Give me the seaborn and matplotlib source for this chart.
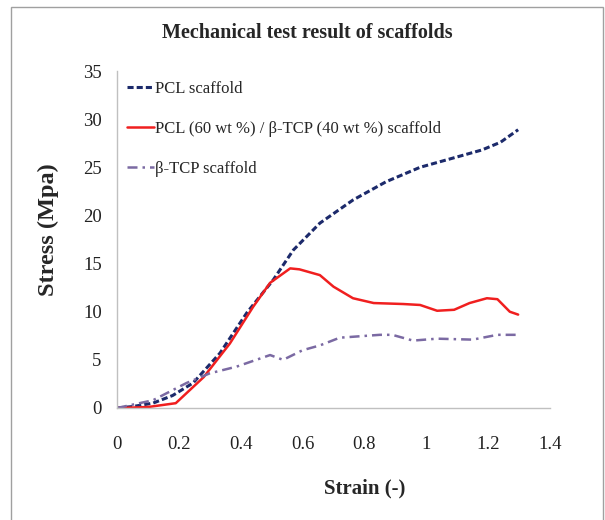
import matplotlib
matplotlib.use("Agg")
import matplotlib.pyplot as plt
import seaborn as sns
import pandas as pd
from matplotlib.patches import Rectangle

# Data
pcl_strain = [0.0, 0.05, 0.116, 0.18, 0.246, 0.333, 0.42, 0.505, 0.57, 0.656, 0.763, 0.87, 0.98, 1.08, 1.18, 1.24, 1.297]
pcl_stress = [0.0, 0.15, 0.5, 1.3, 2.6, 5.7, 9.9, 13.3, 16.4, 19.2, 21.6, 23.5, 25.0, 25.9, 26.8, 27.6, 28.9]

mix_strain = [0.0, 0.1, 0.19, 0.28, 0.365, 0.44, 0.495, 0.56, 0.59, 0.656, 0.70, 0.763, 0.83, 0.925, 0.98, 1.035, 1.09, 1.14, 1.196, 1.23, 1.27, 1.297]
mix_stress = [0.0, 0.1, 0.5, 3.2, 6.7, 10.5, 13.0, 14.5, 14.4, 13.8, 12.6, 11.4, 10.9, 10.8, 10.7, 10.1, 10.2, 10.9, 11.4, 11.3, 10.0, 9.7]

tcp_strain = [0.0, 0.116, 0.225, 0.30, 0.387, 0.495, 0.537, 0.60, 0.656, 0.72, 0.85, 0.89, 0.957, 1.035, 1.15, 1.23, 1.297]
tcp_stress = [0.0, 0.8, 2.6, 3.6, 4.3, 5.5, 5.0, 6.0, 6.5, 7.3, 7.6, 7.6, 7.0, 7.2, 7.1, 7.6, 7.6]

labels = ["PCL scaffold", "PCL (60 wt %) / \u03b2-TCP (40 wt %) scaffold", "\u03b2-TCP scaffold"]
x_ticks = [0, 0.2, 0.4, 0.6, 0.8, 1, 1.2, 1.4]
x_tick_labels = ["0", "0.2", "0.4", "0.6", "0.8", "1", "1.2", "1.4"]
y_ticks = [0, 5, 10, 15, 20, 25, 30, 35]

sns.set_style("white")
plt.rcParams['font.family'] = ['Liberation Serif', 'DejaVu Serif']

W, H = 605, 520
fig = plt.figure(figsize=(W / 100, H / 100), dpi=100)
ax = fig.add_axes([117 / W, 1 - 408 / H, (550 - 117) / W, (408 - 71) / H])

df_pcl = pd.DataFrame({"strain": pcl_strain, "stress": pcl_stress})
df_mix = pd.DataFrame({"strain": mix_strain, "stress": mix_stress})
df_tcp = pd.DataFrame({"strain": tcp_strain, "stress": tcp_stress})

sns.lineplot(data=df_pcl, x="strain", y="stress", ax=ax, color="#1c2a6b", lw=2.2,
             linestyle=(0, (2, 1)), label=labels[0], sort=False)
sns.lineplot(data=df_mix, x="strain", y="stress", ax=ax, color="#f01f1f", lw=1.8,
             label=labels[1], sort=False)
sns.lineplot(data=df_tcp, x="strain", y="stress", ax=ax, color="#7b6aa3", lw=1.8,
             linestyle=(0, (4, 2, 1, 2)), label=labels[2], sort=False)

ax.set_xlim(0, 1.4)
ax.set_ylim(0, 35)
ax.set_xticks(x_ticks)
ax.set_xticklabels(x_tick_labels)
ax.set_yticks(y_ticks)
for s in ["top", "right"]:
    ax.spines[s].set_visible(False)
for s in ["left", "bottom"]:
    ax.spines[s].set_color("#c0c0c0")
    ax.spines[s].set_linewidth(1.0)
ax.tick_params(axis="both", direction="out", length=5, width=1, color="#c0c0c0",
               labelsize=13.5, labelcolor="#222222", pad=6)
ax.tick_params(axis="x", pad=15)
ax.set_xlabel("")
ax.set_ylabel("")

leg = ax.legend(loc="upper left", bbox_to_anchor=(0.0, 1.0), frameon=False, fontsize=12,
                handlelength=1.6, handletextpad=0.1, labelspacing=1.45, borderaxespad=0.2)

fig.text(307 / W, 1 - 33 / H, "Mechanical test result of scaffolds", ha="center", va="center",
         fontsize=14.5, fontweight="bold")
fig.text(365 / W, 1 - 488 / H, "Strain (-)", ha="center", va="center", fontsize=15, fontweight="bold")
fig.text(48 / W, 1 - 230 / H, "Stress (Mpa)", ha="center", va="center", rotation=90,
         fontsize=17.5, fontweight="bold")

fig.patches.append(Rectangle((11 / W, -0.05), (603 - 11) / W, 1 - 7 / H + 0.05,
                             transform=fig.transFigure, fill=False, edgecolor="#a0a0a0", lw=1))

fig.savefig("out.png", dpi=100)
